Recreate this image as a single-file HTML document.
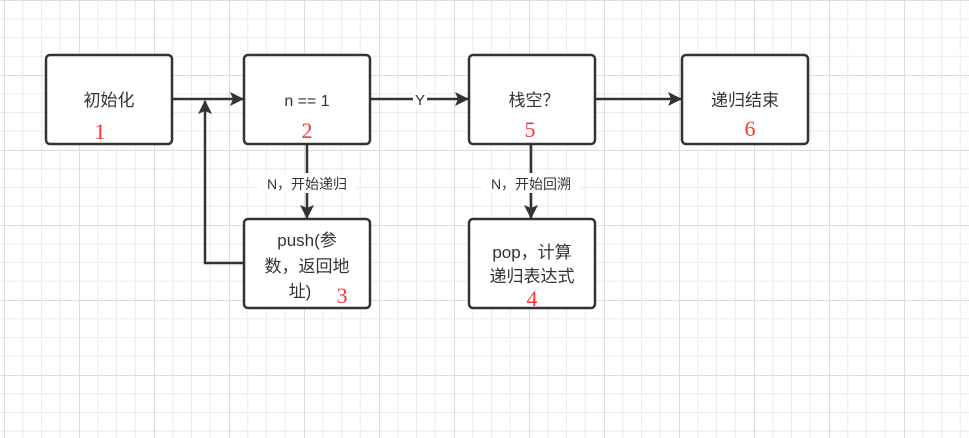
<!DOCTYPE html>
<html><head><meta charset="utf-8"><style>
html,body{margin:0;padding:0;background:#fff;width:969px;height:438px;overflow:hidden}
svg{display:block}
text{font-family:"Liberation Sans","Noto Sans CJK SC",sans-serif;fill:#333}
.n{font-family:"Liberation Serif","Noto Serif CJK SC",serif;fill:#ff3333;font-size:22px}
</style></head><body>
<svg width="969" height="438" viewBox="0 0 969 438" xmlns="http://www.w3.org/2000/svg">
<defs>
<pattern id="g" x="4" y="0" width="75" height="75" patternUnits="userSpaceOnUse">
<path d="M18.75 0V75M37.5 0V75M56.25 0V75M0 18.75H75M0 37.5H75M0 56.25H75" stroke="#ececec" stroke-width="1" fill="none"/>
<path d="M0.5 0V75M0 0.5H75" stroke="#dcdcdc" stroke-width="1" fill="none"/>
</pattern>
<marker id="a" markerWidth="14" markerHeight="14" refX="13" refY="7" orient="auto" markerUnits="userSpaceOnUse"><path d="M0 0L14 7L0 14L3 7Z" fill="#333"/></marker>
</defs>
<rect width="969" height="438" fill="url(#g)"/>
<g stroke="#333" stroke-width="2.5" fill="none">
<line x1="172" y1="99" x2="243" y2="99" marker-end="url(#a)"/>
<polyline points="244,263 205,263 205,101" marker-end="url(#a)"/>
<line x1="370" y1="99" x2="468" y2="99" marker-end="url(#a)"/>
<line x1="595" y1="99" x2="681" y2="99" marker-end="url(#a)"/>
<line x1="307" y1="144" x2="307" y2="218" marker-end="url(#a)"/>
<line x1="531" y1="144" x2="531" y2="218" marker-end="url(#a)"/>
</g>
<rect x="413" y="90" width="14" height="18" fill="#fff"/>
<text x="420" y="105" font-size="15" text-anchor="middle">Y</text>
<rect x="258" y="173" width="98" height="20" fill="#fff"/>
<text x="307" y="189" font-size="14" text-anchor="middle">N，开始递归</text>
<rect x="482" y="173" width="98" height="20" fill="#fff"/>
<text x="531" y="189" font-size="14" text-anchor="middle">N，开始回溯</text>
<g stroke="#333" stroke-width="2.5" fill="#fff">
<rect x="46" y="55" width="126" height="89" rx="4"/>
<rect x="244" y="55" width="126" height="89" rx="4"/>
<rect x="244" y="219" width="126" height="89" rx="4"/>
<rect x="469" y="55" width="126" height="89" rx="4"/>
<rect x="682" y="55" width="126" height="89" rx="4"/>
<rect x="469" y="219" width="126" height="89" rx="4"/>
</g>
<g font-size="17" text-anchor="middle">
<text x="109" y="106">初始化</text>
<text x="307" y="106" font-size="16">n == 1</text>
<text x="534" y="106">栈空？</text>
<text x="745" y="106">递归结束</text>
<text x="307" y="246">push(参</text>
<text x="307" y="272">数，返回地</text>
<text x="300" y="297">址)</text>
<text x="532" y="258">pop，计算</text>
<text x="532" y="282">递归表达式</text>
</g>
<g text-anchor="middle">
<text class="n" x="100" y="139">1</text>
<text class="n" x="307" y="138">2</text>
<text class="n" x="342" y="303">3</text>
<text class="n" x="532" y="306">4</text>
<text class="n" x="530" y="137">5</text>
<text class="n" x="750" y="136">6</text>
</g>
</svg>
</body></html>
